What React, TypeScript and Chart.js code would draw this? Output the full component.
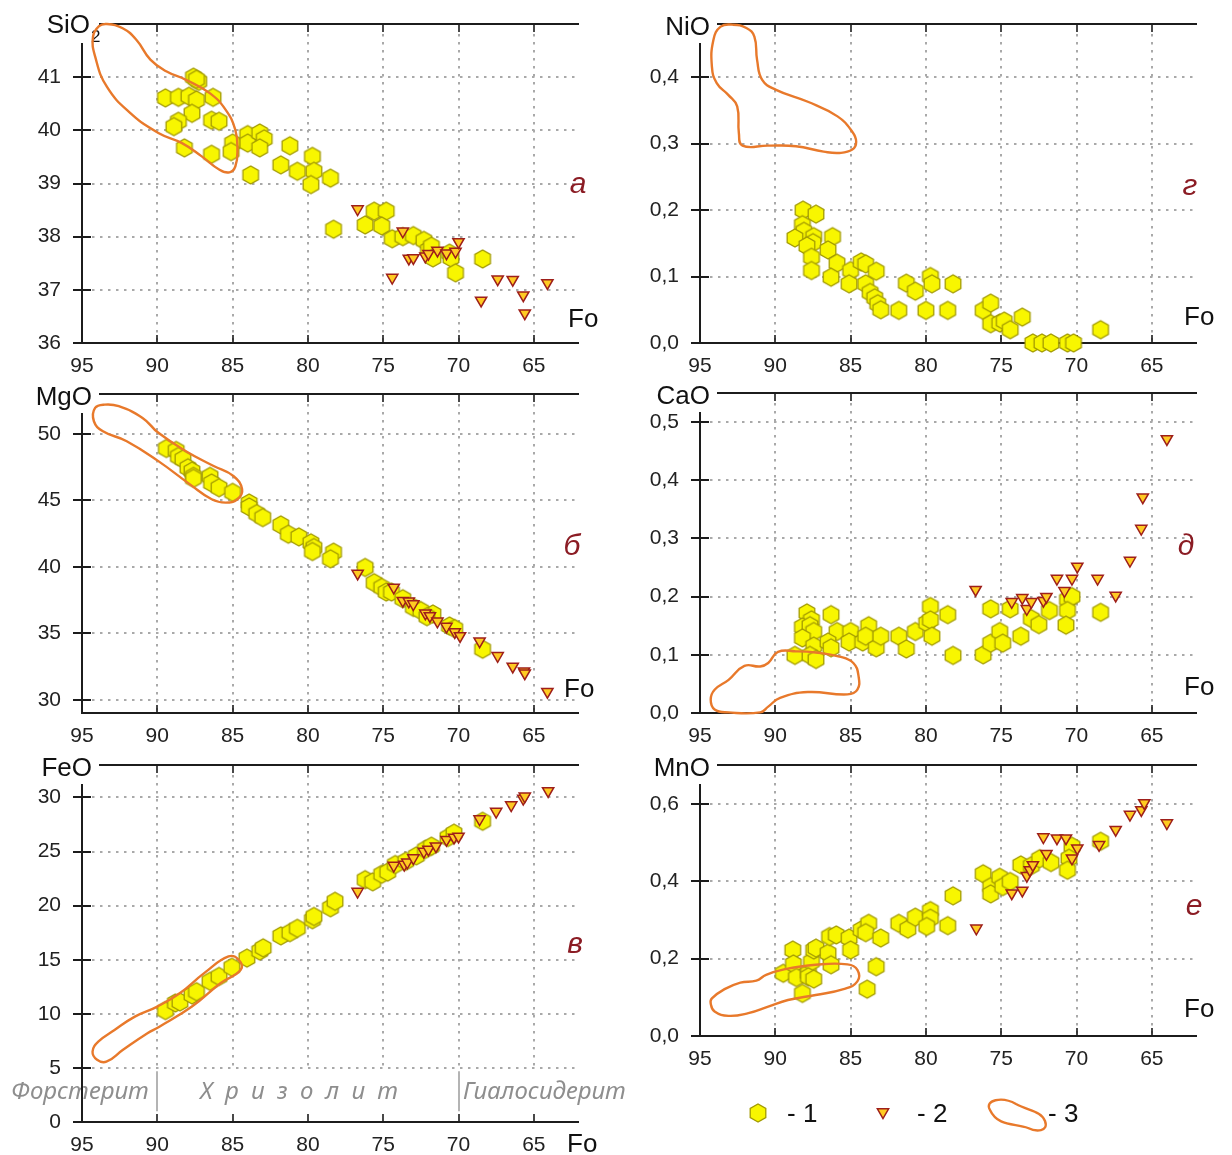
import React, { useEffect, useRef } from 'react';
import { Chart, registerables } from 'chart.js';

Chart.register(...registerables);

const FONT = "'Liberation Sans', Arial, sans-serif";
const ITALIC_FONT = "'Noto Sans', 'Open Sans', sans-serif";

// ---------- shared x axis (Fo, reversed) ----------
const xTicks = [95, 90, 85, 80, 75, 70, 65];
const xMin = 62;
const xMax = 95;

// ---------- а : SiO2 ----------
const sio2Ticks = [36, 37, 38, 39, 40, 41];
const sio2Hex = [
  [89.46, 40.61], [88.6, 40.62], [87.9, 40.64], [87.6, 41.0], [87.25, 40.92], [87.4, 40.96], [87.4, 40.57],
  [87.7, 40.32], [88.6, 40.17], [88.9, 40.07], [88.2, 39.67], [86.3, 40.62], [86.4, 40.19], [85.9, 40.17],
  [86.4, 39.55], [85.0, 39.76], [85.1, 39.6], [84.0, 39.92], [84.0, 39.76], [83.2, 39.95], [82.9, 39.84],
  [83.2, 39.67], [83.8, 39.16], [81.8, 39.35], [81.2, 39.71], [80.7, 39.23], [79.7, 39.51], [79.6, 39.23],
  [79.8, 38.98], [78.5, 39.1], [78.3, 38.14], [76.2, 38.22], [75.6, 38.48], [74.8, 38.48], [75.1, 38.2],
  [74.4, 37.96], [73.7, 38.0], [73.0, 38.02], [72.3, 37.93], [72.0, 37.75], [71.8, 37.82], [71.7, 37.6],
  [70.6, 37.69], [70.5, 37.6], [70.2, 37.32], [68.4, 37.58],
];
const sio2Tri = [
  [76.7, 38.52], [73.7, 38.1], [74.4, 37.23], [73.3, 37.59], [73.0, 37.6], [72.2, 37.63], [72.0, 37.68],
  [71.4, 37.74], [70.8, 37.69], [70.2, 37.72], [70.0, 37.9], [68.5, 36.8], [67.4, 37.2], [66.4, 37.19],
  [65.7, 36.9], [65.6, 36.56], [64.1, 37.13],
];
const sio2Field = [
  [93.35, 42.0], [92.3, 41.92], [91.38, 41.7], [90.46, 41.33], [89.41, 41.11], [88.1, 40.95], [86.52, 40.7],
  [85.47, 40.39], [84.82, 40.01], [84.68, 39.63], [84.82, 39.32], [85.21, 39.21], [85.87, 39.26],
  [87.05, 39.51], [88.36, 39.76], [89.93, 39.95], [91.77, 40.32], [93.35, 40.82], [94.13, 41.39],
  [94.27, 41.76], [93.87, 41.96],
];

// ---------- г : NiO ----------
const nioTicks = [0, 0.1, 0.2, 0.3, 0.4];
const nioHex = [
  [88.16, 0.2], [87.3, 0.194], [88.2, 0.178], [88.1, 0.168], [88.7, 0.158], [87.45, 0.16], [87.5, 0.151],
  [87.9, 0.146], [87.6, 0.129], [87.6, 0.109], [86.2, 0.16], [86.5, 0.14], [85.9, 0.12], [86.3, 0.099],
  [85.0, 0.109], [85.1, 0.089], [84.3, 0.122], [84.0, 0.119], [84.0, 0.089], [83.7, 0.076], [83.3, 0.108],
  [83.4, 0.068], [83.2, 0.059], [83.0, 0.05], [81.8, 0.049], [81.3, 0.09], [80.7, 0.078], [79.7, 0.1],
  [79.6, 0.089], [80.0, 0.049], [78.55, 0.049], [78.2, 0.089], [76.2, 0.049], [75.7, 0.06], [75.7, 0.029],
  [75.1, 0.03], [74.8, 0.033], [74.4, 0.02], [73.6, 0.039], [72.9, 0.0], [72.3, 0.0], [71.7, 0.0],
  [70.6, 0.0], [70.2, 0.0], [68.4, 0.02],
];
const nioTri: number[][] = [];
const nioField = [
  [92.84, 0.479], [91.92, 0.474], [91.39, 0.461], [91.21, 0.426], [90.87, 0.396], [89.95, 0.381],
  [87.84, 0.363], [85.87, 0.341], [84.89, 0.318], [84.63, 0.303], [84.89, 0.291], [85.74, 0.286],
  [86.79, 0.288], [88.63, 0.296], [90.47, 0.297], [92.18, 0.297], [92.42, 0.316], [92.53, 0.356],
  [93.11, 0.373], [93.89, 0.391], [94.21, 0.416], [94.11, 0.456], [93.63, 0.476],
];

// ---------- б : MgO ----------
const mgoTicks = [30, 35, 40, 45, 50];
const mgoHex = [
  [89.4, 48.9], [88.75, 48.75], [88.6, 48.3], [88.3, 48.1], [87.97, 47.45], [87.7, 47.2], [87.6, 46.8],
  [87.6, 46.65], [86.5, 46.8], [86.4, 46.3], [85.9, 45.95], [85.0, 45.6], [83.9, 44.8], [83.9, 44.5],
  [83.4, 44.0], [83.0, 43.7], [81.8, 43.15], [81.3, 42.45], [80.6, 42.25], [79.8, 41.8], [79.6, 41.45],
  [79.7, 41.15], [78.3, 41.1], [78.5, 40.6], [76.2, 39.95], [75.6, 38.8], [75.1, 38.45], [74.8, 38.1],
  [74.45, 38.1], [73.7, 37.6], [73.0, 36.95], [72.5, 36.7], [71.7, 36.45], [72.1, 36.25], [70.6, 35.55],
  [70.25, 35.35], [68.4, 33.8],
];
const mgoTri = [
  [76.7, 39.5], [74.3, 38.45], [73.7, 37.45], [73.3, 37.4], [73.0, 37.2], [72.2, 36.5], [71.9, 36.3],
  [71.4, 35.9], [70.8, 35.5], [70.25, 35.1], [69.9, 34.8], [68.6, 34.4], [67.4, 33.3], [66.4, 32.5],
  [65.65, 32.15], [65.6, 32.0], [64.1, 30.6],
];
const mgoField = [
  [94.13, 51.95], [93.48, 52.2], [92.56, 52.08], [90.98, 51.2], [89.93, 50.08], [88.1, 48.7], [86.26, 47.58],
  [84.95, 46.83], [84.37, 45.83], [84.68, 45.08], [85.47, 44.83], [86.39, 45.08], [87.83, 46.2],
  [89.93, 47.95], [92.03, 49.45], [93.61, 50.2], [94.21, 50.95],
];

// ---------- д : CaO ----------
const caoTicks = [0, 0.1, 0.2, 0.3, 0.4, 0.5];
const caoHex = [
  [87.9, 0.172], [87.6, 0.16], [88.2, 0.148], [87.7, 0.15], [87.45, 0.14], [88.2, 0.129], [87.45, 0.115],
  [88.7, 0.099], [87.7, 0.099], [87.3, 0.092], [86.3, 0.169], [85.9, 0.14], [86.5, 0.122], [86.3, 0.112],
  [85.0, 0.14], [85.1, 0.122], [84.2, 0.122], [83.8, 0.15], [84.0, 0.132], [83.3, 0.112], [83.0, 0.132],
  [81.8, 0.132], [81.3, 0.11], [80.7, 0.14], [79.95, 0.155], [79.7, 0.183], [79.7, 0.16], [79.6, 0.132],
  [78.55, 0.169], [78.2, 0.099], [76.2, 0.1], [75.7, 0.12], [75.7, 0.179], [75.1, 0.14], [74.9, 0.12],
  [74.4, 0.179], [73.7, 0.132], [73.0, 0.162], [72.5, 0.152], [71.8, 0.176], [70.6, 0.195], [70.3, 0.2],
  [70.6, 0.176], [70.7, 0.151], [68.4, 0.173],
];
const caoTri = [
  [76.7, 0.212], [74.3, 0.191], [73.6, 0.198], [73.3, 0.179], [73.0, 0.191], [72.2, 0.193], [72.0, 0.2],
  [71.3, 0.231], [70.8, 0.21], [70.3, 0.231], [69.95, 0.252], [68.6, 0.231], [67.4, 0.202], [66.45, 0.262],
  [65.7, 0.317], [65.6, 0.371], [64.0, 0.471],
];
const caoField = [
  [94.03, 0.006], [93.1, 0.001], [91.0, 0.001], [90.47, 0.011], [89.68, 0.026], [87.84, 0.036],
  [85.21, 0.032], [84.55, 0.04], [84.47, 0.063], [84.82, 0.086], [85.74, 0.097], [87.32, 0.104],
  [88.63, 0.106], [89.82, 0.105], [90.47, 0.086], [91.0, 0.08], [92.05, 0.081], [93.1, 0.057],
  [94.03, 0.04], [94.29, 0.023],
];

// ---------- в : FeO ----------
const feoTicks = [0, 5, 10, 15, 20, 25, 30];
const feoHex = [
  [89.46, 10.3], [88.8, 11.0], [88.5, 11.1], [87.7, 11.75], [87.4, 12.05], [86.5, 13.0], [85.9, 13.45],
  [85.05, 14.3], [84.05, 15.15], [83.2, 15.8], [82.97, 16.1], [81.8, 17.2], [81.2, 17.5], [80.7, 17.9],
  [79.7, 18.7], [79.6, 19.0], [78.5, 19.8], [78.2, 20.4], [76.2, 22.4], [75.7, 22.2], [75.1, 22.9],
  [74.7, 23.1], [74.2, 23.8], [73.5, 24.1], [72.8, 24.6], [72.2, 25.2], [71.8, 25.5], [70.7, 26.3],
  [70.3, 26.7], [68.4, 27.8],
];
const feoTri = [
  [76.7, 21.3], [74.3, 23.7], [73.6, 23.8], [73.4, 24.0], [73.0, 24.4], [72.3, 25.0], [72.0, 25.2],
  [71.5, 25.5], [70.8, 26.1], [70.3, 26.3], [70.0, 26.4], [68.6, 28.0], [67.5, 28.7], [66.5, 29.3],
  [65.7, 29.9], [65.6, 30.1], [64.05, 30.6],
];
const feoField = [
  [93.38, 5.57], [92.3, 6.65], [90.68, 8.19], [89.86, 8.81], [87.7, 10.67], [85.81, 12.83], [84.46, 14.07],
  [84.59, 15.0], [85.27, 15.3], [86.89, 13.76], [88.51, 11.9], [90.0, 10.67], [91.49, 9.74], [92.84, 8.5],
  [93.92, 7.42], [94.3, 6.5], [94.0, 5.75],
];
const mineralNames = ['Форстерит', 'Х р и з о л и т', 'Гиалосидерит'];
const mineralBounds = [90, 70];

// ---------- е : MnO ----------
const mnoTicks = [0, 0.2, 0.4, 0.6];
const mnoHex = [
  [88.84, 0.222], [89.47, 0.162], [88.8, 0.186], [88.6, 0.151], [88.2, 0.11], [87.8, 0.162], [87.6, 0.192],
  [87.45, 0.222], [87.3, 0.227], [87.8, 0.153], [87.45, 0.147], [86.5, 0.214], [86.4, 0.257], [85.95, 0.261],
  [86.3, 0.184], [85.1, 0.253], [85.0, 0.222], [84.3, 0.274], [83.8, 0.291], [84.0, 0.267], [83.9, 0.121],
  [83.3, 0.179], [83.0, 0.253], [81.8, 0.291], [81.2, 0.276], [80.7, 0.307], [79.7, 0.324], [79.7, 0.304],
  [79.95, 0.283], [78.55, 0.285], [78.2, 0.362], [76.2, 0.419], [75.7, 0.386], [75.7, 0.367], [75.1, 0.41],
  [74.9, 0.386], [74.4, 0.399], [73.7, 0.442], [73.0, 0.44], [72.45, 0.458], [71.7, 0.448], [70.3, 0.49],
  [70.5, 0.459], [70.6, 0.428], [68.4, 0.503],
];
const mnoTri = [
  [76.65, 0.278], [74.3, 0.369], [73.6, 0.376], [73.3, 0.414], [73.1, 0.429], [72.9, 0.442], [72.2, 0.514],
  [72.0, 0.471], [71.3, 0.511], [70.7, 0.511], [70.3, 0.459], [69.95, 0.485], [68.5, 0.494], [67.4, 0.533],
  [66.45, 0.572], [65.7, 0.584], [65.5, 0.602], [64.0, 0.55],
];
const mnoField = [
  [94.21, 0.097], [93.37, 0.121], [92.32, 0.138], [91.26, 0.143], [90.61, 0.158], [89.42, 0.172],
  [87.32, 0.184], [85.21, 0.185], [84.55, 0.171], [84.55, 0.141], [85.47, 0.121], [87.32, 0.106],
  [89.16, 0.093], [90.47, 0.076], [91.79, 0.059], [93.1, 0.052], [94.03, 0.063], [94.29, 0.084],
];
const legendLabels = ['- 1', '- 2', '- 3'];

// ---------- layout (positions only) ----------
type Panel = {
  key: string; left: number; top: number; width: number; height: number;
  area: [number, number, number, number];
  yMin: number; yMax: number; yTicks: number[]; dec: number;
  hex: number[][]; tri: number[][]; field: number[][];
  title: string; sub?: string; letter: string; letterPos: [number, number]; foPos: [number, number];
  gridStop?: number; minerals?: boolean; legend?: boolean;
};

const panels: Panel[] = [
  { key: 'a', left: 0, top: 0, width: 616, height: 378, area: [82, 24, 579, 343], yMin: 36, yMax: 42, yTicks: sio2Ticks, dec: 0,
    hex: sio2Hex, tri: sio2Tri, field: sio2Field, title: 'SiO', sub: '2', letter: 'а', letterPos: [578, 185], foPos: [568, 327] },
  { key: 'g', left: 616, top: 0, width: 616, height: 378, area: [84, 24, 581, 343], yMin: 0, yMax: 0.48, yTicks: nioTicks, dec: 1,
    hex: nioHex, tri: nioTri, field: nioField, title: 'NiO', letter: 'г', letterPos: [574, 187], foPos: [568, 325] },
  { key: 'b', left: 0, top: 378, width: 616, height: 372, area: [82, 16, 579, 335], yMin: 29, yMax: 53, yTicks: mgoTicks, dec: 0,
    hex: mgoHex, tri: mgoTri, field: mgoField, title: 'MgO', letter: 'б', letterPos: [572, 169], foPos: [564, 319] },
  { key: 'd', left: 616, top: 378, width: 616, height: 372, area: [84, 15, 581, 335], yMin: 0, yMax: 0.55, yTicks: caoTicks, dec: 1,
    hex: caoHex, tri: caoTri, field: caoField, title: 'CaO', letter: 'д', letterPos: [570, 169], foPos: [568, 317] },
  { key: 'v', left: 0, top: 750, width: 640, height: 405, area: [82, 15, 579, 372], yMin: 0, yMax: 33, yTicks: feoTicks, dec: 0,
    hex: feoHex, tri: feoTri, field: feoField, title: 'FeO', letter: 'в', letterPos: [575, 195], foPos: [567, 402], gridStop: 5, minerals: true },
  { key: 'e', left: 640, top: 750, width: 592, height: 405, area: [60, 15, 557, 286], yMin: 0, yMax: 0.7, yTicks: mnoTicks, dec: 1,
    hex: mnoHex, tri: mnoTri, field: mnoField, title: 'MnO', letter: 'е', letterPos: [554, 157], foPos: [544, 267], legend: true },
];

const HEX_FILL = '#F8F600';
const HEX_STROKE = '#A39B00';
const TRI_FILL = '#FFCB22';
const TRI_STROKE = '#9E1F1A';
const FIELD_COLOR = '#E8792B';

function makeHex(R: number) {
  const c = document.createElement('canvas');
  const s = Math.ceil(2 * R + 4);
  c.width = s; c.height = s;
  const g = c.getContext('2d')!;
  const cx = s / 2, cy = s / 2;
  g.beginPath();
  for (let i = 0; i < 6; i++) {
    const ang = Math.PI / 2 + (i * Math.PI) / 3;
    const px = cx + R * Math.cos(ang), py = cy + R * Math.sin(ang);
    if (i === 0) g.moveTo(px, py); else g.lineTo(px, py);
  }
  g.closePath();
  g.fillStyle = HEX_FILL; g.fill();
  g.strokeStyle = HEX_STROKE; g.lineWidth = 1.3; g.stroke();
  return c;
}

function drawTri(ctx: CanvasRenderingContext2D, x: number, y: number, r: number) {
  ctx.beginPath();
  for (let i = 0; i < 3; i++) {
    const ang = Math.PI / 2 + (i * 2 * Math.PI) / 3;
    const px = x + r * Math.cos(ang), py = y + r * Math.sin(ang);
    if (i === 0) ctx.moveTo(px, py); else ctx.lineTo(px, py);
  }
  ctx.closePath();
  ctx.fillStyle = TRI_FILL; ctx.fill();
  ctx.strokeStyle = TRI_STROKE; ctx.lineWidth = 1.5; ctx.stroke();
}

function decorPlugin(p: Panel, hexImg: HTMLCanvasElement) {
  return {
    id: 'decor_' + p.key,
    afterDatasetsUpdate(chart: any) {
      const line: any = chart.getDatasetMeta(0).dataset;
      if (line) {
        line._loop = true;
        line._fullLoop = true;
        line._pointsUpdated = false;
        delete line._segments;
        delete line._path;
        if (line.updateControlPoints) line.updateControlPoints(chart.chartArea, 'x');
      }
    },
    beforeDatasetsDraw(chart: any) {
      const { ctx, chartArea: a } = chart;
      const xs = chart.scales.x, ys = chart.scales.y;
      ctx.save();
      // dotted grid
      ctx.strokeStyle = '#a9a9a9';
      ctx.lineWidth = 2;
      ctx.setLineDash([2.5, 5.5]);
      const gBottom = p.gridStop != null ? ys.getPixelForValue(p.gridStop) : a.bottom;
      for (const v of xTicks) {
        if (v === xMax) continue;
        const px = Math.round(xs.getPixelForValue(v));
        ctx.beginPath(); ctx.moveTo(px, a.top + 10); ctx.lineTo(px, gBottom); ctx.stroke();
      }
      for (const v of p.yTicks) {
        const py = Math.round(ys.getPixelForValue(v));
        if (Math.abs(py - a.bottom) < 2) continue;
        ctx.beginPath(); ctx.moveTo(a.left + 10, py); ctx.lineTo(a.right - 4, py); ctx.stroke();
      }
      ctx.setLineDash([]);

      if (p.minerals) {
        ctx.fillStyle = '#ffffff';
        const y5 = ys.getPixelForValue(5);
        ctx.fillRect(a.left + 2, y5 + 2, a.right - a.left, a.bottom - y5 - 3);
        ctx.strokeStyle = '#b4b4b4'; ctx.lineWidth = 2;
        for (const b of mineralBounds) {
          const px = Math.round(xs.getPixelForValue(b));
          ctx.beginPath(); ctx.moveTo(px, ys.getPixelForValue(4.7)); ctx.lineTo(px, ys.getPixelForValue(1.0)); ctx.stroke();
        }
        ctx.fillStyle = '#8e8e8e';
        ctx.font = `italic 24px ${ITALIC_FONT}`;
        ctx.textBaseline = 'middle';
        ctx.textAlign = 'left';
        const my = ys.getPixelForValue(2.75);
        ctx.fillText(mineralNames[0], 11, my, 141);
        (ctx as any).letterSpacing = '3px';
        ctx.fillText(mineralNames[1], 200, my, 210);
        (ctx as any).letterSpacing = '0px';
        ctx.fillText(mineralNames[2], 463, my, 172);
      }

      // axes
      ctx.strokeStyle = '#1c1c1c';
      ctx.lineWidth = 2;
      const bottomHasTick = p.yTicks.includes(p.yMin);
      ctx.beginPath();
      ctx.moveTo(a.left, a.top + 19); ctx.lineTo(a.left, a.bottom + 1);
      ctx.moveTo(a.left - (bottomHasTick ? 9 : 0), a.bottom); ctx.lineTo(a.right, a.bottom);
      ctx.moveTo(a.left + 17, a.top); ctx.lineTo(a.right, a.top);
      for (const v of p.yTicks) {
        const py = Math.round(ys.getPixelForValue(v));
        ctx.moveTo(a.left - 9, py); ctx.lineTo(a.left + 9, py);
      }
      ctx.stroke();
      ctx.lineWidth = 1.6;
      ctx.beginPath();
      for (const v of xTicks) {
        if (v === xMax) continue;
        const px = Math.round(xs.getPixelForValue(v));
        ctx.moveTo(px, a.bottom); ctx.lineTo(px, a.bottom - 8);
        ctx.moveTo(px, a.top); ctx.lineTo(px, a.top + 8);
      }
      ctx.stroke();

      // titles
      ctx.fillStyle = '#111';
      ctx.textBaseline = 'alphabetic';
      ctx.font = `26px ${FONT}`;
      if (p.sub) {
        ctx.textAlign = 'right';
        ctx.fillText(p.title, a.left + 8, a.top + 9);
        ctx.textAlign = 'left';
        ctx.font = `17px ${FONT}`;
        ctx.fillText(p.sub, a.left + 9, a.top + 18);
      } else {
        ctx.textAlign = 'right';
        ctx.fillText(p.title, a.left + 10, a.top + 11);
      }
      ctx.font = `26px ${FONT}`;
      ctx.textAlign = 'left';
      ctx.fillText('Fo', p.foPos[0], p.foPos[1]);

      ctx.fillStyle = '#8B1C24';
      ctx.font = `italic 30px ${FONT}`;
      ctx.textAlign = 'center';
      ctx.fillText(p.letter, p.letterPos[0], p.letterPos[1] + 8);

      if (p.legend) {
        ctx.drawImage(hexImg, 118 - hexImg.width / 2, 363 - hexImg.height / 2);
        drawTri(ctx, 243, 362, 6.5);
        ctx.strokeStyle = FIELD_COLOR; ctx.lineWidth = 2.4;
        ctx.beginPath();
        ctx.moveTo(350, 360);
        ctx.bezierCurveTo(344, 350, 362, 346, 376, 354);
        ctx.bezierCurveTo(389, 361, 401, 361, 405, 371);
        ctx.bezierCurveTo(409, 382, 396, 382, 388, 378);
        ctx.bezierCurveTo(375, 373, 358, 377, 350, 360);
        ctx.closePath();
        ctx.stroke();
        ctx.fillStyle = '#111';
        ctx.font = `26px ${FONT}`;
        ctx.textAlign = 'left';
        ctx.fillText(legendLabels[0], 147, 372);
        ctx.fillText(legendLabels[1], 277, 372);
        ctx.fillText(legendLabels[2], 408, 372);
      }
      ctx.restore();
    },
  };
}

const toXY = (arr: number[][]) => arr.map(([x, y]) => ({ x, y }));

function buildConfig(p: Panel, hexImg: HTMLCanvasElement): any {
  const [l, t, r, b] = p.area;
  const xh = Math.min(35, p.height - b);
  const fmt = (v: number) => (p.dec ? v.toFixed(p.dec).replace('.', ',') : String(v));
  return {
    type: 'scatter',
    data: {
      datasets: [
        { label: '3', data: toXY(p.field), showLine: true, tension: 0.45, capBezierPoints: false,
          borderColor: FIELD_COLOR, borderWidth: 2.4, pointRadius: 0, fill: false, order: 0, clip: false },
        { label: '2', data: toXY(p.tri), pointStyle: 'triangle', pointRotation: 180, pointRadius: 6.5,
          pointBackgroundColor: TRI_FILL, pointBorderColor: TRI_STROKE, pointBorderWidth: 1.5, order: 1, clip: false },
        { label: '1', data: toXY(p.hex), pointStyle: hexImg, pointRadius: 9, order: 2, clip: false },
      ],
    },
    options: {
      animation: false,
      responsive: false,
      maintainAspectRatio: false,
      events: [],
      layout: { autoPadding: false, padding: { left: 0, top: t, right: p.width - r, bottom: p.height - b - xh } },
      plugins: { legend: { display: false }, tooltip: { enabled: false } },
      scales: {
        x: {
          type: 'linear', reverse: true, min: xMin, max: xMax,
          afterBuildTicks: (s: any) => { s.ticks = xTicks.map((v) => ({ value: v })); },
          afterFit: (s: any) => { s.height = xh; s.paddingLeft = 0; s.paddingRight = 0; },
          grid: { display: false, drawTicks: false },
          border: { display: false },
          ticks: { padding: 11, autoSkip: false, maxRotation: 0, minRotation: 0, color: '#222',
            font: { family: FONT, size: 21 }, callback: (v: number) => String(v) },
        },
        y: {
          type: 'linear', min: p.yMin, max: p.yMax,
          afterBuildTicks: (s: any) => { s.ticks = p.yTicks.map((v) => ({ value: v })); },
          afterFit: (s: any) => { s.width = l; s.paddingTop = 0; s.paddingBottom = 0; },
          grid: { display: false, drawTicks: false },
          border: { display: false },
          ticks: { padding: 21, autoSkip: false, color: '#222', font: { family: FONT, size: 21 },
            callback: (v: number) => fmt(v) },
        },
      },
    },
    plugins: [decorPlugin(p, hexImg)],
  };
}

export default function App() {
  const refs = useRef<(HTMLCanvasElement | null)[]>([]);
  useEffect(() => {
    const hexImg = makeHex(9);
    const charts = panels.map((p, i) => new Chart(refs.current[i] as HTMLCanvasElement, buildConfig(p, hexImg)));
    return () => charts.forEach((c) => c.destroy());
  }, []);
  return (
    <div style={{ position: 'absolute', left: 0, top: 0, width: 1232, height: 1155, background: '#fff' }}>
      {panels.map((p, i) => (
        <canvas
          key={p.key}
          ref={(el) => { refs.current[i] = el; }}
          width={p.width}
          height={p.height}
          style={{ position: 'absolute', left: p.left, top: p.top, width: p.width, height: p.height }}
        />
      ))}
    </div>
  );
}
